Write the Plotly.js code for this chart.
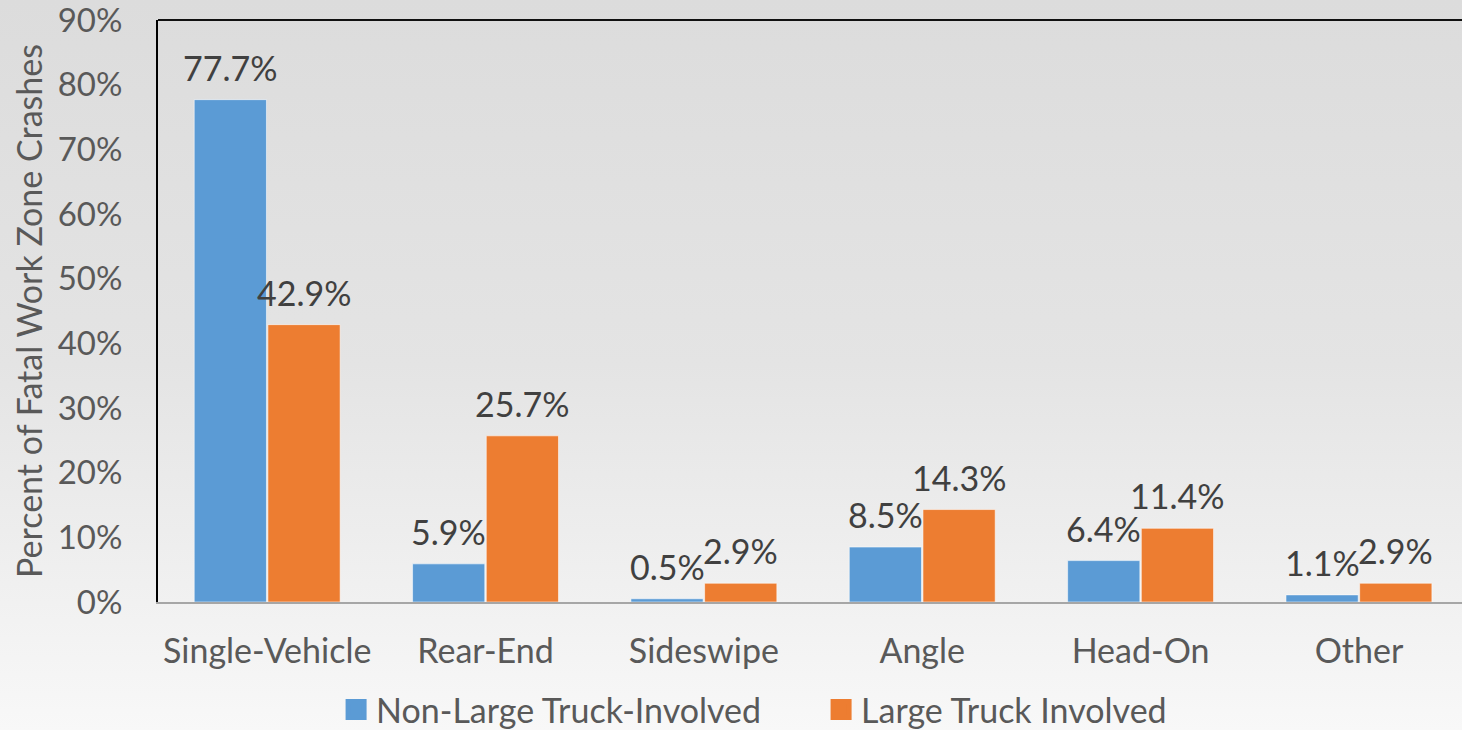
<!DOCTYPE html>
<html><head><meta charset="utf-8">
<script src="https://cdn.plot.ly/plotly-3.0.1.min.js"></script>
<style>
html,body{margin:0;padding:0;}
body{width:1462px;height:730px;background:linear-gradient(to bottom,#dcdcdc 0%,#e4e4e4 50%,#f0f0f0 80%,#f8f8f8 100%);overflow:hidden}
#chart{width:1462px;height:730px;}
</style></head><body><div id="chart"></div>
<script>
const categories = ['Single-Vehicle','Rear-End','Sideswipe','Angle','Head-On','Other'];
const nonLargeTruck = [77.7, 5.9, 0.5, 8.5, 6.4, 1.1];
const largeTruck = [42.9, 25.7, 2.9, 14.3, 11.4, 2.9];
const seriesNames = ['Non-Large Truck-Involved', 'Large Truck Involved'];
const seriesColors = ['#5B9BD5', '#ED7D31'];
const yTickVals = [0, 10, 20, 30, 40, 50, 60, 70, 80, 90];
const yTickText = ['0%', '10%', '20%', '30%', '40%', '50%', '60%', '70%', '80%', '90%'];
const yAxisTitle = 'Percent of Fatal Work Zone Crashes';

const FONT = 'Lato, "Open Sans", sans-serif';
const bargap = 0.325, bargroupgap = 0.02;
const slot = (1 - bargap) / 2;
const offs = [-slot / 2, slot / 2];
const series = [nonLargeTruck, largeTruck];

const traces = series.map((vals, k) => ({
  type: 'bar', x: categories, y: vals, name: seriesNames[k], showlegend: false,
  marker: {color: seriesColors[k], line: {color: 'rgba(255,255,255,0.55)', width: 1}},
  hoverinfo: 'skip'
}));
// legend entries
series.forEach((vals, k) => traces.push({
  type: 'scatter', mode: 'markers', x: [null], y: [null], name: seriesNames[k], showlegend: true,
  marker: {symbol: 'square', size: 16, color: seriesColors[k], line: {color: seriesColors[k], width: 5}}
}));

const annotations = [];
series.forEach((vals, k) => vals.forEach((v, i) => annotations.push({
  xref: 'x', yref: 'y', x: i + offs[k], y: v, text: v.toFixed(1) + '%',
  showarrow: false, yanchor: 'bottom', xanchor: 'center', yshift: 10,
  font: {family: FONT, size: 34, color: '#404040'}
})));

const layout = {
  width: 1462, height: 730,
  paper_bgcolor: 'rgba(0,0,0,0)', plot_bgcolor: 'rgba(0,0,0,0)',
  margin: {l: 158, r: 0, t: 20, b: 128, autoexpand: false},
  bargap: bargap, bargroupgap: bargroupgap, barmode: 'group',
  font: {family: FONT, color: '#595959'},
  xaxis: {
    type: 'category', range: [-0.5, 5.472], showline: true, linecolor: '#a6a6a6', linewidth: 2,
    ticks: 'outside', ticklen: 18, tickcolor: 'rgba(0,0,0,0)', showgrid: false, zeroline: false,
    tickfont: {family: FONT, size: 34, color: '#595959'}, fixedrange: true
  },
  yaxis: {
    range: [0, 90.02], tickvals: yTickVals, ticktext: yTickText, showline: true, linecolor: '#000', linewidth: 2,
    ticks: 'outside', ticklen: 27, tickcolor: 'rgba(0,0,0,0)', showgrid: false, zeroline: false,
    ticklabeloverflow: 'allow',
    tickfont: {family: FONT, size: 33, color: '#595959'},
    title: {text: yAxisTitle, font: {family: FONT, size: 34, color: '#595959'}, standoff: 5}
  },
  shapes: [{type: 'line', xref: 'paper', yref: 'paper', x0: 0, x1: 1, y0: 1, y1: 1, line: {color: '#111', width: 2}}],
  legend: {
    orientation: 'h', x: 0.5085, xanchor: 'center', y: -0.1856, yanchor: 'middle', entrywidth: 440,
    font: {family: FONT, size: 34, color: '#595959'}, bgcolor: 'rgba(0,0,0,0)', itemclick: false
  },
  annotations: annotations,
  showlegend: true
};
Plotly.newPlot('chart', traces, layout, {displayModeBar: false, staticPlot: true});
</script></body></html>
